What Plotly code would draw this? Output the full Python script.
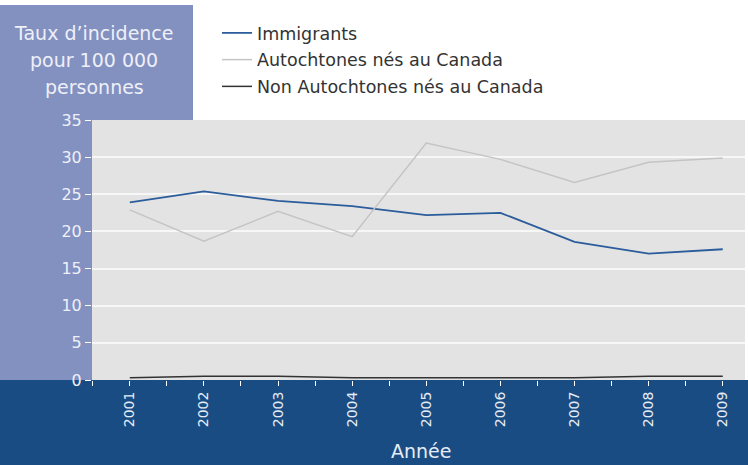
import plotly.graph_objects as go

years = [2001, 2002, 2003, 2004, 2005, 2006, 2007, 2008, 2009]
immigrants = [23.9, 25.4, 24.1, 23.4, 22.2, 22.5, 18.6, 17.0, 17.6]
autochtones = [22.9, 18.7, 22.7, 19.3, 31.9, 29.7, 26.6, 29.3, 29.9]
non_autochtones = [0.3, 0.5, 0.5, 0.3, 0.3, 0.3, 0.3, 0.5, 0.5]
series_names = ["Immigrants", "Autochtones nés au Canada", "Non Autochtones nés au Canada"]
y_ticks = [0, 5, 10, 15, 20, 25, 30, 35]
title_lines = ["Taux d’incidence", "pour 100 000", "personnes"]

W, H = 748, 465
L, R, T, B = 92, 3, 120, 85
pw, ph = W - L - R, H - T - B

def px_x(x):
    return (x - L) / pw

def px_y(y):
    return (H - B - y) / ph

FONT = "DejaVu Sans"
fig = go.Figure()
colors = ["#2B5C9B", "#C4C4C4", "#333333"]
widths = [1.8, 1.5, 1.5]
for i, (name, vals) in enumerate(zip(series_names, [immigrants, autochtones, non_autochtones])):
    fig.add_trace(go.Scatter(x=years, y=vals, mode="lines", name=name,
                             legendgroup=f"g{i}",
                             line=dict(color=colors[i], width=widths[i])))

shapes = [
    dict(type="rect", xref="paper", yref="paper", x0=px_x(0), x1=px_x(193),
         y0=px_y(380), y1=px_y(5), fillcolor="#8391C1", line=dict(width=0), layer="below"),
    dict(type="rect", xref="paper", yref="paper", x0=0, x1=1, y0=0, y1=1,
         fillcolor="#E3E3E3", line=dict(width=0), layer="below"),
    dict(type="rect", xref="paper", yref="paper", x0=px_x(0), x1=px_x(W),
         y0=px_y(H), y1=0, fillcolor="#1A4C84", line=dict(width=0), layer="below"),
]

annotations = []
for k, t in enumerate(title_lines):
    annotations.append(dict(text=t, xref="paper", yref="paper",
                            x=px_x(94), y=px_y(33 + 27 * k), xanchor="center", yanchor="middle",
                            showarrow=False, font=dict(family=FONT, size=19, color="#EEF0F8")))
annotations.append(dict(text="Année", xref="paper", yref="paper", x=px_x(421), y=px_y(451),
                        xanchor="center", yanchor="middle", showarrow=False,
                        font=dict(family=FONT, size=19, color="#E6ECF5")))

fig.update_layout(
    width=W, height=H,
    margin=dict(l=L, r=R, t=T, b=B, pad=0),
    paper_bgcolor="white",
    plot_bgcolor="rgba(0,0,0,0)",
    shapes=shapes,
    annotations=annotations,
    showlegend=True,
    legend=dict(x=px_x(217), y=px_y(15), xanchor="left", yanchor="top",
                bgcolor="rgba(0,0,0,0)", tracegroupgap=1,
                font=dict(family=FONT, size=17.5, color="#333333")),
    xaxis=dict(range=[2000.49, 2009.3], tickvals=years, ticktext=[str(y) for y in years],
               tickangle=-90, ticks="outside", ticklen=5, tickcolor="white", tickwidth=1,
               showgrid=False, zeroline=False, showline=False,
               minor=dict(ticks="outside", tick0=2001, dtick=0.5, ticklen=5, tickcolor="white", tickwidth=1),
               tickfont=dict(family=FONT, size=14, color="#E6ECF5")),
    yaxis=dict(range=[0, 35], tickvals=y_ticks, ticks="outside", ticklen=6, tickcolor="white",
               showgrid=True, gridcolor="#F7F7F7", gridwidth=2, zeroline=False, showline=False,
               tickfont=dict(family=FONT, size=16, color="#EEF0F8")),
)

fig.write_html("out.html", config={"displayModeBar": False},
               post_script="document.body.style.margin='0';")
